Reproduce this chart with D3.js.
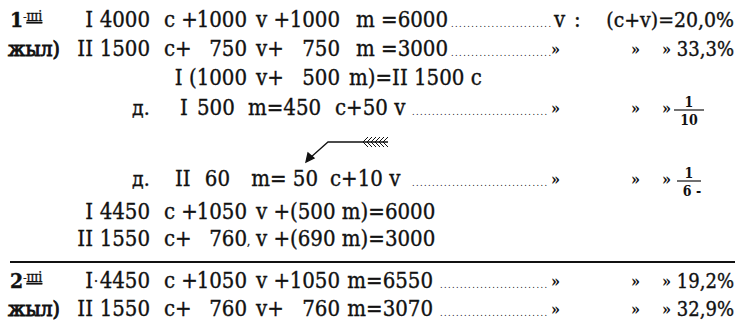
<!DOCTYPE html>
<html>
<head>
<meta charset="utf-8">
<script src="https://cdn.jsdelivr.net/npm/d3@7"></script>
<style>
  html, body { margin: 0; padding: 0; background: #fff; }
  svg { display: block; }
</style>
</head>
<body>
<script>
// --- DATA ---
// left labels of each line (year / "д." marks)
const rowLabels = ['1-ші', 'жыл)', '', 'д.', 'д.', '', '', '2-ші', 'жыл)'];

// equation pieces per line: [column key, text]
const equationRows = [
    [['sec', 'I'], ['cN', '4000'], ['cp', 'c +'], ['vN', '1000'], ['vp', 'v +'], ['mN', '1000'], ['mt', 'm =6000']],
    [['sec', 'II'], ['cN', '1500'], ['cp', 'c+'], ['vN', '750'], ['vp', 'v+'], ['mN', '750'], ['mt', 'm =3000']],
    [['s3', 'I (1000'], ['vp', 'v+'], ['mN', '500'], ['r3', 'm)=II 1500 c']],
    [['s4', 'I'], ['n4', '500'], ['m4', 'm=450'], ['c4', 'c+50 v']],
    [['s5', 'II'], ['n5', '60'], ['m5', 'm= 50'], ['c5', 'c+10 v']],
    [['sec', 'I'], ['cN', '4450'], ['cp', 'c +'], ['vN', '1050'], ['vp', 'v +(500 m)=6000']],
    [['sec', 'II'], ['cN', '1550'], ['cp', 'c+'], ['vN', '760'], ['tick', ','], ['vp', 'v +(690 m)=3000']],
    [['sec', 'I'], ['dot', '·'], ['cN', '4450'], ['cp', 'c +'], ['vN', '1050'], ['vp', 'v +'], ['mN', '1050'], ['mt2', 'm=6550']],
    [['sec', 'II'], ['cN', '1550'], ['cp', 'c+'], ['vN', '760'], ['vp', 'v+'], ['mN', '760'], ['mt2', 'm=3070']]
];

// right side: ratio v:(c+v)
const ratioHead = ['v', ':', '(c+v)=20,0%'];
const ditto = '»';
const ratioRows = [
    { row: 0, kind: 'head', leader: 'a' },
    { row: 1, kind: 'pct', value: '33,3%', leader: 'a' },
    { row: 3, kind: 'frac', num: '1', den: '10', leader: 'b' },
    { row: 4, kind: 'frac', num: '1', den: '6 -', leader: 'b' },
    { row: 7, kind: 'pct', value: '19,2%', leader: 'c' },
    { row: 8, kind: 'pct', value: '32,9%', leader: 'c' }
];

// --- LAYOUT ---
const width = 735;
const height = 327;
const font = '"DejaVu Serif Condensed", "DejaVu Serif", serif';
const fontSize = 22;
const rowY = d3.scaleOrdinal()
    .domain(d3.range(9))
    .range([27, 56, 85, 115, 186, 219, 246, 288, 316]);
const ruleY = 262;

// column anchors: [x, text-anchor]
const cols = {
    lab: [8, 'start'], labD: [132, 'start'],
    sec: [93, 'end'], dot: [96, 'middle'], cN: [150, 'end'], cp: [164, 'start'],
    vN: [247, 'end'], vp: [256, 'start'], mN: [340, 'end'],
    mt: [448, 'end'], mt2: [433, 'end'], tick: [247, 'start'],
    s3: [247, 'end'], r3: [349, 'start'],
    s4: [180, 'start'], n4: [197, 'start'], m4: [248, 'start'], c4: [335, 'start'],
    s5: [175, 'start'], n5: [230, 'end'], m5: [318, 'end'], c5: [330, 'start']
};
const leaders = { a: [451, 551], b: [412, 547], c: [440, 547] };
const dittoX = [551, 631, 662];
const pctEnd = 734;
const fracX = 689;

const svg = d3.select('body').append('svg')
    .attr('width', width)
    .attr('height', height)
    .attr('font-family', font)
    .attr('font-stretch', 'condensed')
    .attr('fill', '#111');

const txtStyle = sel => sel.attr('stroke', '#111').attr('stroke-width', 0.35);

// --- LABELS ---
const labelG = svg.append('g');
rowLabels.forEach((t, i) => {
    if (!t) return;
    const ord = t.match(/^(\d)(-)(ші)$/);
    if (ord) {
        const txt = labelG.append('text')
            .attr('x', cols.lab[0] + 2).attr('y', rowY(i))
            .attr('font-size', fontSize - 1).call(txtStyle);
        txt.append('tspan').attr('font-weight', 'bold').text(ord[1]);
        txt.append('tspan').attr('font-size', 11).attr('dy', -6).text(ord[2]);
        txt.append('tspan').attr('font-size', 14)
            .attr('text-decoration', 'underline').text(ord[3]);
    } else {
        const key = t === 'д.' ? 'labD' : 'lab';
        labelG.append('text')
            .attr('x', cols[key][0]).attr('y', rowY(i))
            .attr('font-size', fontSize - 1)
            .attr('stroke', '#111')
            .attr('stroke-width', key === 'lab' ? 0.9 : 0.35)
            .text(t);
    }
});

// --- EQUATIONS ---
const tokens = equationRows.flatMap((toks, i) => toks.map(([key, text]) => ({ row: i, key, text })));
svg.append('g')
    .selectAll('text')
    .data(tokens)
    .join('text')
    .attr('x', d => cols[d.key][0])
    .attr('y', d => rowY(d.row) + (d.key === 'tick' ? -1 : d.key === 'dot' ? -2 : 0))
    .attr('text-anchor', d => cols[d.key][1])
    .attr('font-size', d => d.key === 'tick' ? 11 : d.key === 'dot' ? 14 : fontSize)
    .style('white-space', 'pre')
    .call(txtStyle)
    .text(d => d.text);

// --- RATIO COLUMN ---
const ratioG = svg.append('g');
ratioRows.forEach(r => {
    const y = rowY(r.row);
    const [x0, x1] = leaders[r.leader];
    const n = Math.round((x1 - x0) / 4);
    ratioG.append('text')
        .attr('x', x0).attr('y', y)
        .attr('font-size', 9)
        .attr('textLength', x1 - x0).attr('lengthAdjust', 'spacing')
        .text('.'.repeat(n));

    if (r.kind === 'head') {
        ratioG.append('text').attr('x', x1 + 3).attr('y', y).attr('font-size', fontSize).call(txtStyle).text(ratioHead[0]);
        ratioG.append('text').attr('x', x1 + 23).attr('y', y).attr('font-size', fontSize).call(txtStyle).text(ratioHead[1]);
        ratioG.append('text').attr('x', pctEnd).attr('y', y).attr('text-anchor', 'end')
            .attr('font-size', fontSize - 1).call(txtStyle).text(ratioHead[2]);
        return;
    }
    dittoX.forEach(x => {
        ratioG.append('text')
            .attr('x', x).attr('y', y - 1)
            .attr('font-size', 16).attr('font-weight', 'bold').text(ditto);
    });
    if (r.kind === 'pct') {
        ratioG.append('text').attr('x', pctEnd).attr('y', y).attr('text-anchor', 'end')
            .attr('font-size', fontSize - 2).call(txtStyle).text(r.value);
    } else {
        const barY = y - 5;
        const barW = r.den.length > 2 ? 24 : 30;
        ratioG.append('line')
            .attr('x1', fracX - barW / 2).attr('x2', fracX + barW / 2)
            .attr('y1', barY).attr('y2', barY)
            .attr('stroke', '#111').attr('stroke-width', 1.2);
        ratioG.append('text').attr('x', fracX).attr('y', barY - 3).attr('text-anchor', 'middle')
            .attr('font-size', 14).attr('font-weight', 'bold').text(r.num);
        ratioG.append('text').attr('x', fracX + (r.den.length > 2 ? 3 : 0)).attr('y', barY + 15).attr('text-anchor', 'middle')
            .attr('font-size', 14).attr('font-weight', 'bold').text(r.den);
    }
});

// --- RULE ---
svg.append('line')
    .attr('x1', 10).attr('x2', 735)
    .attr('y1', ruleY).attr('y2', ruleY)
    .attr('stroke', '#111').attr('stroke-width', 2);

// --- ARROW ---
const arrow = svg.append('g').attr('stroke', '#111').attr('fill', 'none').attr('stroke-width', 1.3);
const ay = 142;
arrow.append('path').attr('d', `M388,${ay} L328,${ay} L310,158`);
arrow.append('path').attr('d', 'M306,162 L308,153 L314,158 Z').attr('fill', '#111');
d3.range(6).forEach(k => {
    const fx = 363 + k * 4;
    arrow.append('path').attr('d', `M${fx},${ay} l5,-5 M${fx},${ay} l5,5`).attr('stroke-width', 1);
});
</script>
</body>
</html>
